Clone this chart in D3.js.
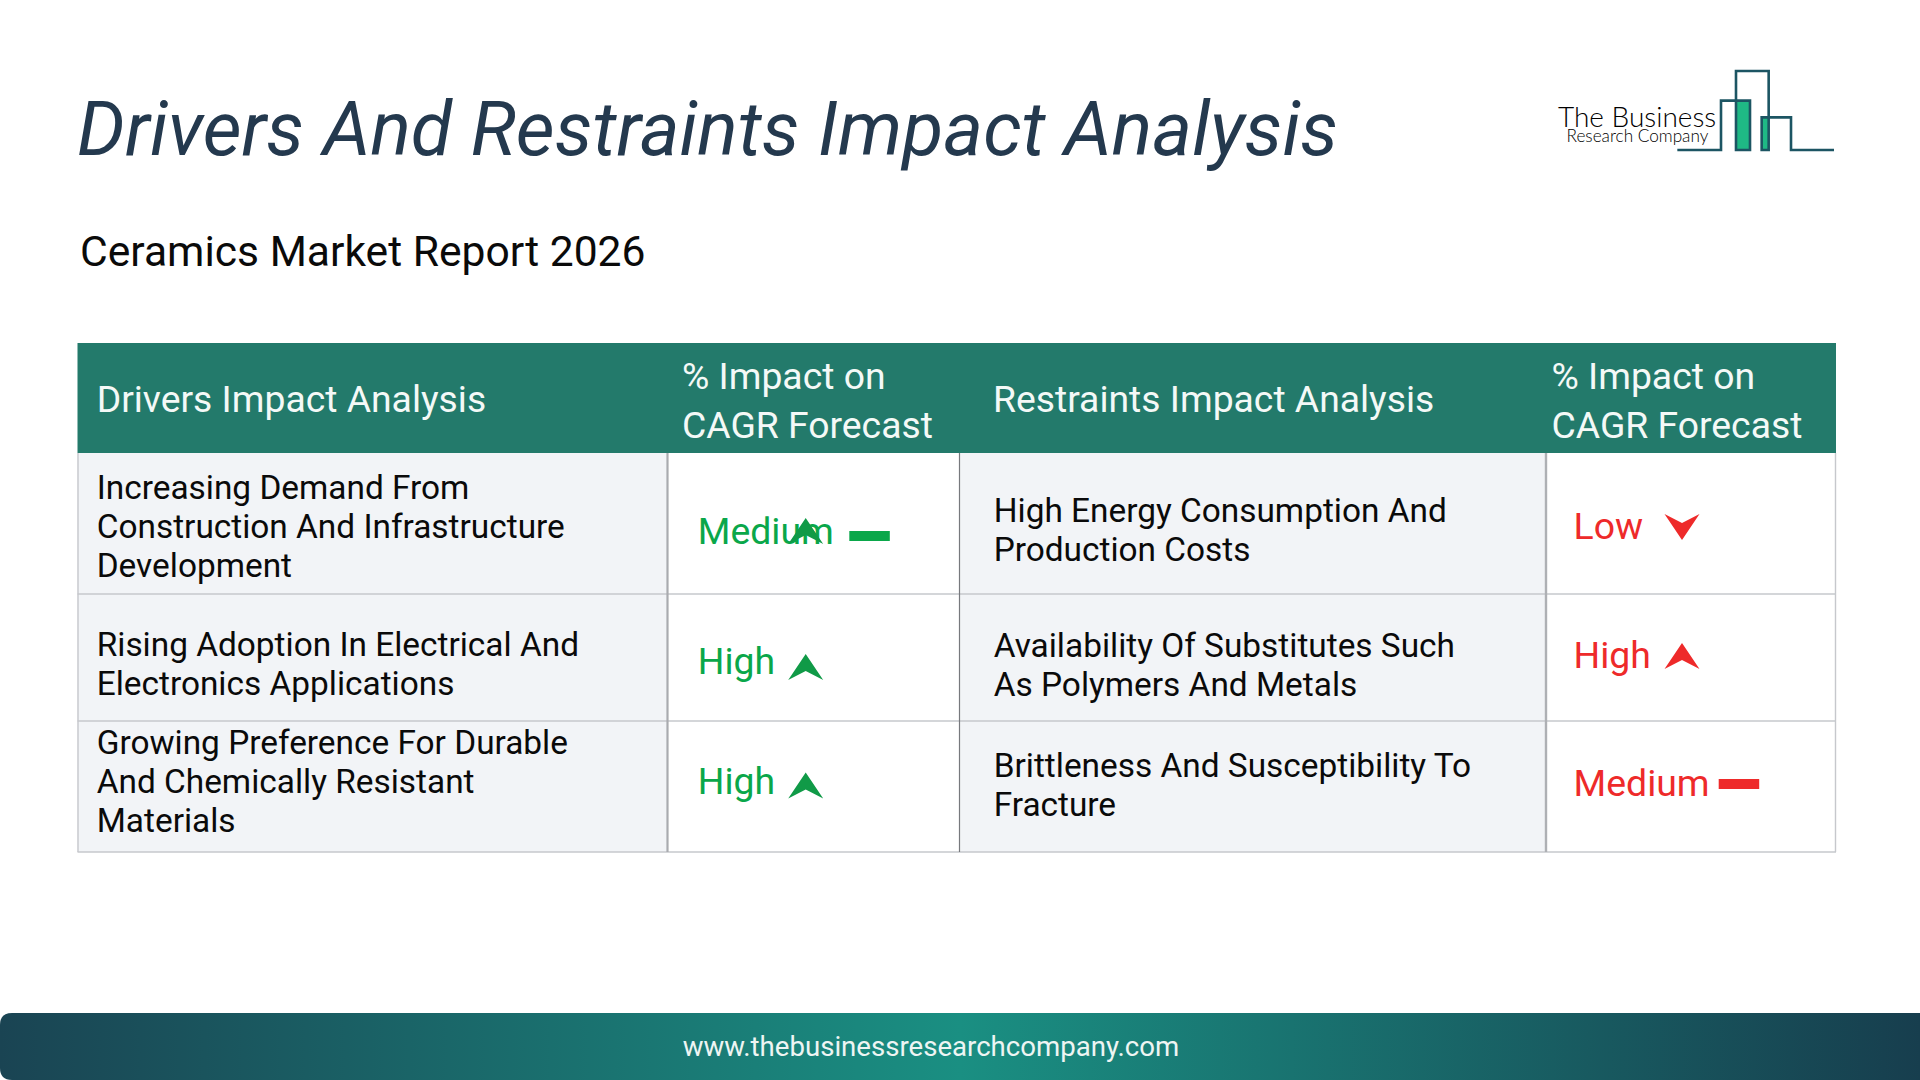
<!DOCTYPE html>
<html><head><meta charset="utf-8">
<script src="https://cdn.jsdelivr.net/npm/d3@7"></script>
<style>html,body{margin:0;padding:0;background:#fff}svg{display:block}text{font-family:Roboto,sans-serif}</style>
</head><body><svg id="c" width="1920" height="1080"></svg>
<script>
const titleText = "Drivers And Restraints Impact Analysis";
const subtitleText = "Ceramics Market Report 2026";
const footerText = "www.thebusinessresearchcompany.com";
const headers = [["Drivers Impact Analysis"],["% Impact on","CAGR Forecast"],["Restraints Impact Analysis"],["% Impact on","CAGR Forecast"]];
const drivers = [
  ["Increasing Demand From","Construction And Infrastructure","Development"],
  ["Rising Adoption In Electrical And","Electronics Applications"],
  ["Growing Preference For Durable","And Chemically Resistant","Materials"]];
const driverImpact = ["Medium","High","High"];
const driverMarks = [["up","dash"],["up"],["up"]];
const restraints = [
  ["High Energy Consumption And","Production Costs"],
  ["Availability Of Substitutes Such","As Polymers And Metals"],
  ["Brittleness And Susceptibility To","Fracture"]];
const restraintImpact = ["Low","High","Medium"];
const restraintMarks = [["down"],["up"],["dash"]];

// layout
const svg = d3.select("#c");
const colX = [77.5,667,959,1546,1836];
const rowY = [453,594,721,852];
const defs = svg.append("defs");
const g = defs.append("linearGradient").attr("id","fg");
[[0,"#1a4453"],[0.5,"#1a8f82"],[1,"#173e4e"]].forEach(s=>g.append("stop").attr("offset",s[0]).attr("stop-color",s[1]));

svg.append("text").attr("x",77).attr("y",154.5).attr("font-size",75.5).attr("font-style","italic").attr("fill","#24394e").text(titleText);
svg.append("text").attr("x",80).attr("y",266).attr("font-size",42.6).attr("fill","#0a0a0a").text(subtitleText);

// cells
const cells=[];
rowY.slice(0,3).forEach((y,r)=>{
  cells.push({x:colX[0],x2:colX[1],y,y2:rowY[r+1],fill:"#f2f4f7"});
  cells.push({x:colX[1],x2:colX[2],y,y2:rowY[r+1],fill:"#ffffff"});
  cells.push({x:colX[2],x2:colX[3],y,y2:rowY[r+1],fill:"#f2f4f7"});
  cells.push({x:colX[3],x2:colX[4],y,y2:rowY[r+1],fill:"#ffffff"});
});
svg.append("g").selectAll("rect").data(cells).join("rect")
  .attr("x",d=>d.x).attr("y",d=>d.y).attr("width",d=>d.x2-d.x).attr("height",d=>d.y2-d.y).attr("fill",d=>d.fill);
svg.append("rect").attr("x",77.5).attr("y",343).attr("width",1758.5).attr("height",110).attr("fill","#237a6b");

const lines = svg.append("g").attr("fill","none");
rowY.slice(1).forEach(y=>lines.append("line").attr("x1",77.5).attr("x2",1836).attr("y1",y).attr("y2",y).attr("stroke","#c6c8cc").attr("stroke-width",1.6));
lines.append("line").attr("x1",78).attr("x2",78).attr("y1",453).attr("y2",852).attr("stroke","#c6c8cc").attr("stroke-width",1.4);
lines.append("line").attr("x1",667.5).attr("x2",667.5).attr("y1",453).attr("y2",852).attr("stroke","#a9abaf").attr("stroke-width",2.2);
lines.append("line").attr("x1",959.5).attr("x2",959.5).attr("y1",453).attr("y2",852).attr("stroke","#77797d").attr("stroke-width",1.2);
lines.append("line").attr("x1",1546).attr("x2",1546).attr("y1",453).attr("y2",852).attr("stroke","#aeb0b4").attr("stroke-width",2.4);
lines.append("line").attr("x1",1835.5).attr("x2",1835.5).attr("y1",453).attr("y2",852).attr("stroke","#c6c8cc").attr("stroke-width",1.4);

// header text
const headX=[96.7,682,993,1551.5];
const headLineY=[[412],[389,438],[412],[389,438]];
headers.forEach((h,i)=>h.forEach((t,j)=>svg.append("text").attr("x",headX[i]).attr("y",headLineY[i][j]).attr("font-size",37.3).attr("fill","#f4f9f7").text(t)));

// body text
const lh=39.2;
function bodyCol(arr,x,firstBase){
  arr.forEach((ls,r)=>svg.append("g").selectAll("text").data(ls).join("text")
    .attr("x",x).attr("y",(d,i)=>firstBase[r]+i*lh).attr("font-size",33.4).attr("fill","#0a0a0a").text(d=>d));
}
bodyCol(drivers,96.7,[499,656,754]);
bodyCol(restraints,993.7,[522,657,777]);

// impact labels and marks
const upPath=(()=>{const p=d3.path();p.moveTo(0,-13);p.lineTo(17.5,13);p.lineTo(0,4);p.lineTo(-17.5,13);p.closePath();return p.toString();})();
const dnPath=(()=>{const p=d3.path();p.moveTo(0,13);p.lineTo(17.5,-13);p.lineTo(0,-4);p.lineTo(-17.5,-13);p.closePath();return p.toString();})();
function impact(vals,marks,x,base,color,markX,markY,dashX){
  vals.forEach((v,r)=>{
    svg.append("text").attr("x",x).attr("y",base[r]).attr("font-size",37.4).attr("fill",color).text(v);
    marks[r].forEach(m=>{
      if(m==="dash") svg.append("rect").attr("x",dashX[r]).attr("y",markY[r]-5).attr("width",40.5).attr("height",10).attr("fill",color);
      else svg.append("path").attr("d",m==="up"?upPath:dnPath).attr("transform",`translate(${markX},${m==="up"&&r===0&&marks[r].length>1?531:markY[r]})`).attr("fill",color==="#0aa74a"?"#109a47":color);
    });
  });
}
impact(driverImpact,driverMarks,697.8,[543.5,674,794],"#0aa74a",805.7,[536,667,785.5],[849.3,849.3,849.3]);
impact(restraintImpact,restraintMarks,1573.6,[538.5,668,796],"#ee2a2a",1682,[527,656,784],[1718.7,1718.7,1718.7]);

// footer
svg.append("path").attr("d","M12,1013H1920V1080H12Q0,1080 0,1068V1025Q0,1013 12,1013Z").attr("fill","url(#fg)");
svg.append("text").attr("x",931).attr("y",1056).attr("text-anchor","middle").attr("font-size",27.6).attr("fill","#eef5f3").text(footerText);

// logo
const logo=svg.append("g");
logo.append("rect").attr("x",1500+708/3).attr("y",40+182/3).attr("width",42/3).attr("height",148/3).attr("fill","#1fb985");
logo.append("rect").attr("x",1500+785/3).attr("y",40+232/3).attr("width",21/3).attr("height",98/3).attr("fill","#1fb985");
const pts=[[532,330],[663,330],[663,182],[750,182],[750,330],[708,330],[708,93],[806,93],[806,330],[785,330],[785,232],[873,232],[873,330],[1002,330]];
logo.append("path").attr("d",d3.line().x(d=>1500+d[0]/3).y(d=>40+d[1]/3)(pts)).attr("fill","none").attr("stroke","#1c5563").attr("stroke-width",2.6);
svg.append("text").attr("x",1558).attr("y",127).attr("font-size",28).attr("style","font-family:Lato;font-weight:300").attr("fill","#000").text("The Business");
svg.append("text").attr("x",1566.5).attr("y",142).attr("font-size",17.2).attr("style","font-family:Lato;font-weight:300").attr("fill","#000").text("Research Company");
</script></body></html>
